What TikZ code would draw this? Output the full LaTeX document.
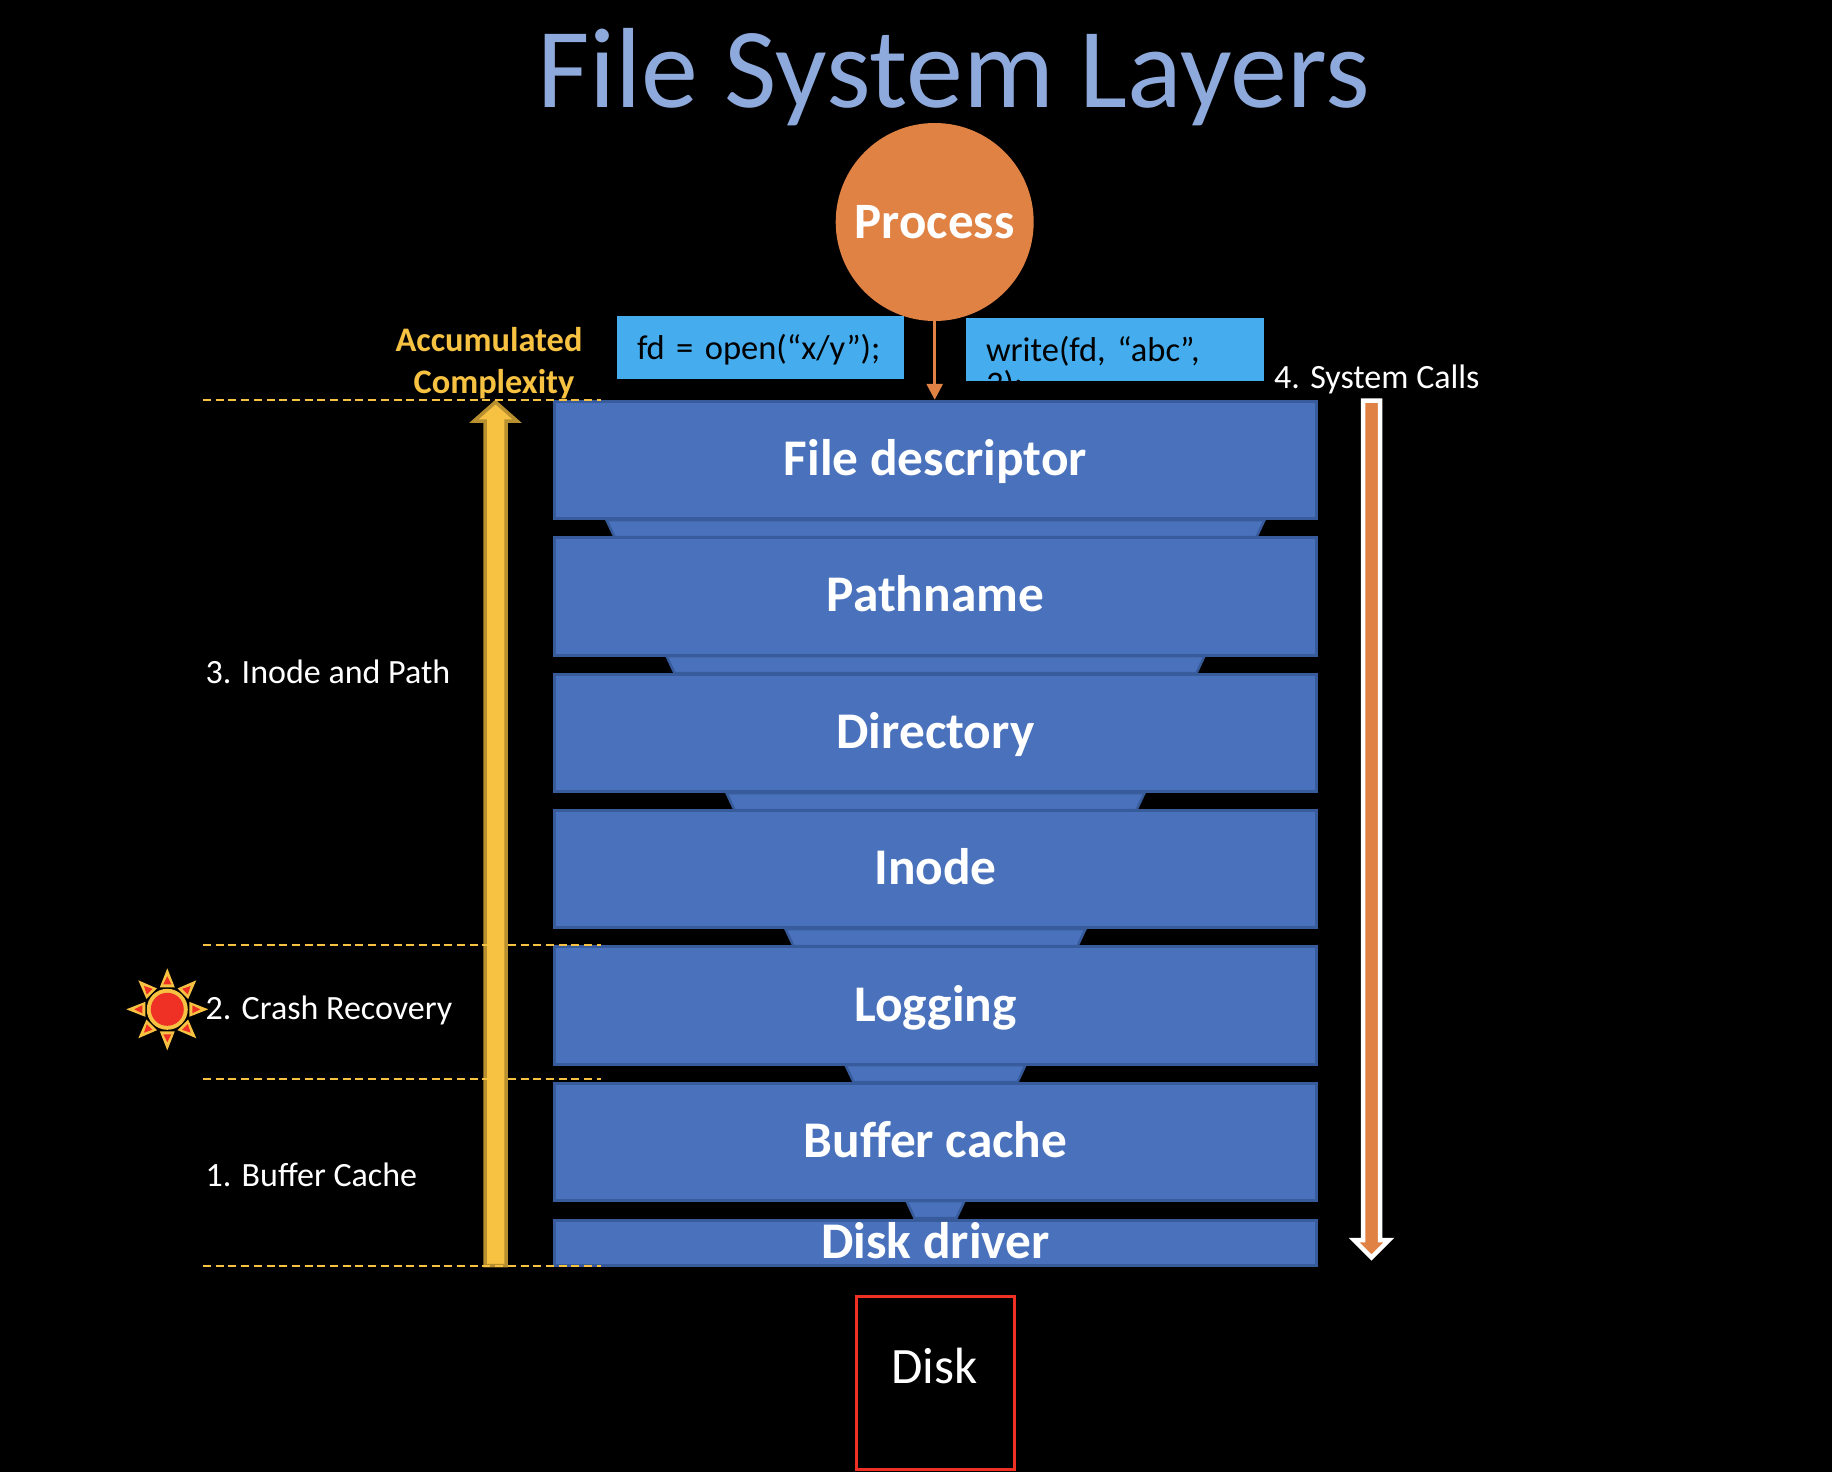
\documentclass[tikz,border=0pt]{standalone}
\usepackage{fontspec}
\setmainfont{Carlito}
\usetikzlibrary{arrows.meta,positioning}
\definecolor{lblue}{HTML}{4A72BC}
\definecolor{lbluedark}{HTML}{375B9B}
\definecolor{lsky}{HTML}{45ADEE}
\definecolor{lorange}{HTML}{DF8244}
\definecolor{lyellow}{HTML}{F7C142}
\definecolor{lyellowdark}{HTML}{B8902F}
\definecolor{lred}{HTML}{EE3124}
\definecolor{ltitle}{HTML}{8EA9DB}
\tikzset{
 layerbox/.style={draw=lbluedark, fill=lblue, line width=3pt, minimum width=761.5pt, minimum height=117.5pt, inner sep=0pt, text=white, font=\fontsize{51.4}{51.4}\selectfont\bfseries, text height=35pt, text depth=4pt},
 funnel/.style={draw=lbluedark, fill=lblue, line width=2.5pt},
 callbox/.style={fill=lsky, text=black, inner ysep=0pt, inner xsep=20pt, align=left, minimum height=63pt, font=\fontsize{34.5}{34.5}\selectfont, text height=29pt, text depth=5.6pt},
 sidelabel/.style={anchor=base west, text=white, inner sep=0pt, font=\fontsize{34}{34}\selectfont},
 levelline/.style={draw=lyellow, line width=2pt, dash pattern=on 8pt off 4.7pt}
}
\begin{document}
\begin{tikzpicture}[x=1pt, y=-1pt]
 \fill[black] (0,0) rectangle (1832,1472);
 \useasboundingbox (0,0) rectangle (1832,1472);
 \node[anchor=base, text=ltitle, inner sep=0pt, font=\fontsize{114}{114}\selectfont] (title) at (953.5,107) {File System Layers};
 % funnels between the layers
 \foreach \y/\w in {520/329, 656/269, 793/209, 929/150, 1065/90, 1201/29}
  \draw[funnel] (935.5-\w,\y) -- (935.5+\w,\y) -- (935.5+\w-8,\y+17) -- (935.5-\w+8,\y+17) -- cycle;
 \node[layerbox] (fd) at (935.5,460) {File descriptor};
 \node[layerbox] (path) at (935.5,596.4) {Pathname};
 \node[layerbox] (dir) at (935.5,732.8) {Directory};
 \node[layerbox] (inode) at (935.5,869.2) {Inode};
 \node[layerbox] (log) at (935.5,1005.6) {Logging};
 \node[layerbox] (buf) at (935.5,1142) {Buffer cache};
 \node[layerbox, minimum height=45.5pt] (driver) at (935.5,1243) {Disk driver};
 \node[circle, fill=lorange, minimum size=198pt, inner sep=0pt, text=white, font=\fontsize{51}{51}\selectfont\bfseries] (proc) at (934.7,222) {Process};
 \draw[-{Triangle[length=16pt, width=16pt]}, draw=lorange, fill=lorange, line width=3pt] (proc.south) -- (proc.south |- fd.north);
 \node[callbox, text width=247pt] (open) at (760.5,347.5) {fd = open(“x/y”);};
 \node[callbox, text width=258pt] (write) at (1115,349.5) {write(fd, “abc”, 3);};
 \node[draw=lred, line width=3pt, minimum width=158pt, minimum height=173pt, inner sep=0pt] (disk) at (935.8,1382.5) {};
 \node[text=white, inner sep=0pt, font=\fontsize{51}{51}\selectfont] (disklabel) at (934.5,1366) {Disk};
 % big arrows
 \draw[draw=lyellowdark, fill=lyellow, line width=3.5pt, line join=miter] (485,1265.5) -- (485,421) -- (474,421) -- (495.5,402) -- (517,421) -- (506,421) -- (506,1265.5) -- cycle;
 \draw[draw=white, fill=lorange, line width=4.5pt, line join=miter] (1363,400.5) -- (1380,400.5) -- (1380,1240) -- (1389,1240) -- (1371.5,1257.5) -- (1354,1240) -- (1363,1240) -- cycle;
 % level lines
 \foreach \y in {399.5,945,1079,1266} \draw[levelline] (203,\y) -- (600.5,\y);
 % sun
 \coordinate (sun) at (167.3,1009.3);
 \foreach \a in {0,45,...,315} {
  \fill[lyellow, shift={(sun)}, rotate=\a] (41,0) -- (22,-7.5) -- (22,7.5) -- cycle;
  \fill[lred, shift={(sun)}, rotate=\a] (33,0) -- (25,-4) -- (25,4) -- cycle;
 }
 \fill[lyellow] (sun) circle (20.5pt);
 \fill[lred] (sun) circle (16.5pt);
 \node[sidelabel] (inodepath) at (205.5,683) {3. Inode and Path};
 \node[sidelabel] (crash) at (205.5,1019) {2. Crash Recovery};
 \node[sidelabel] (bufcache) at (205.5,1186) {1. Buffer Cache};
 \node[sidelabel] (syscalls) at (1274,388) {4. System Calls};
 \node[text=lyellow, inner sep=0pt, align=center, font=\fontsize{34.4}{42}\selectfont\bfseries] (acc) at (489,363.5) {Accumulated\\\hspace*{10pt}Complexity};
\end{tikzpicture}
\end{document}
